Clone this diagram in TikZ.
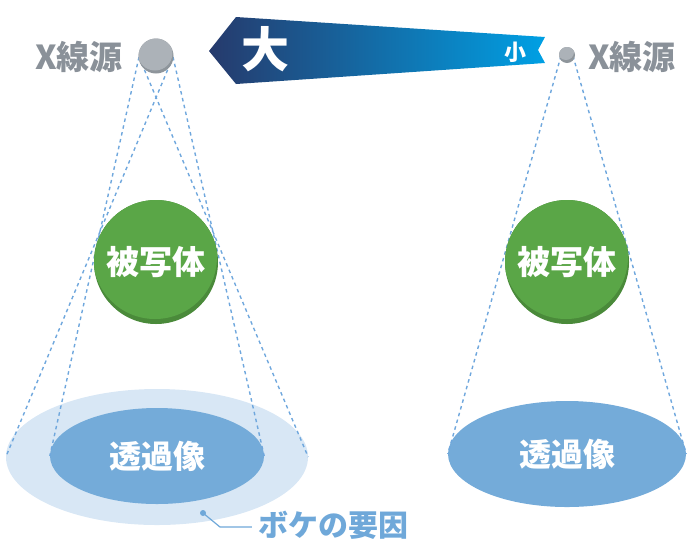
\documentclass[tikz,border=0pt]{standalone}
\usepackage{fontspec}
\newfontfamily\jp{Noto Sans CJK JP}
\usetikzlibrary{shapes.geometric}
\definecolor{penumbra}{HTML}{D8E7F5}
\definecolor{imgblue}{HTML}{74ABD9}
\definecolor{objgreen}{HTML}{5AA647}
\definecolor{objdark}{HTML}{4A8A3A}
\definecolor{srcgray}{HTML}{ACB2B8}
\definecolor{srcdark}{HTML}{8E959B}
\definecolor{txtgray}{HTML}{8A9199}
\definecolor{dashblue}{HTML}{6FA7DD}
\definecolor{bokehblue}{HTML}{6FA8D9}
\definecolor{bannerL}{HTML}{263A6C}
\definecolor{bannerM}{HTML}{0A72AA}
\definecolor{bannerR}{HTML}{00A0E4}
\begin{document}
\begin{tikzpicture}[x=1pt,y=-1pt,
  jpfont/.style={font={\jp\bfseries\fontsize{#1}{#1}\selectfont}},
  ray/.style={draw=dashblue,line width=1.4pt,dash pattern=on 3.5pt off 3.5pt},
  ellipsebox/.style={ellipse,inner sep=0pt,draw=none},
  objball/.style={circle,inner sep=0pt,minimum size=124pt,fill=objdark,text=white,jpfont=33,
    path picture={\fill[objgreen] ([shift={(-1,-5)}]path picture bounding box.center) circle (62);}},
  srcball/.style={circle,inner sep=0pt,fill=srcdark,
    path picture={\fill[srcgray] ([shift={(-1,-3)}]path picture bounding box.center) circle (#1);}},
  srclabel/.style={text=txtgray,jpfont=33,inner sep=0pt},
]
\useasboundingbox (0,0) rectangle (692,550);
% ---------- left setup ----------
\node[ellipsebox,fill=penumbra,minimum width=302pt,minimum height=136pt] (penL) at (157,457) {};
\node[ellipsebox,fill=imgblue,minimum width=214pt,minimum height=96pt,text=white,jpfont=32] (imgL) at (157,456) {透過像};
\coordinate (sLl) at (139,57);
\coordinate (sLr) at (173,57);
\draw[ray] (sLr) -- (penL.west);
\draw[ray] (sLl) -- (penL.east);
\draw[ray] (sLl) -- (imgL.west);
\draw[ray] (sLr) -- (imgL.east);
\node[objball] (objL) at (156,262) {被写体};
\node[srcball=17.5,minimum size=35pt] (srcL) at (156,56) {};
\node[srclabel] (lblL) at (79,57) {X線源};
% ---------- right setup ----------
\node[ellipsebox,fill=imgblue,minimum width=238pt,minimum height=106pt,text=white,jpfont=32] (imgR) at (567,454) {透過像};
\coordinate (sRl) at (561,56);
\coordinate (sRr) at (573,56);
\draw[ray] (sRl) -- (imgR.west);
\draw[ray] (sRr) -- (imgR.east);
\node[objball] (objR) at (567,262) {被写体};
\node[srcball=8,minimum size=16pt] (srcR) at (567,55) {};
\node[srclabel] (lblR) at (632,57) {X線源};
% ---------- banner ----------
\shade[left color=bannerL,middle color=bannerM,right color=bannerR]
  (209,51) -- (236,17) -- (545,37) -- (538,50) -- (545,63) -- (236,84) -- cycle;
\node[text=white,jpfont=48,inner sep=0pt] (big) at (265,49) {大};
\node[text=white,jpfont=22,inner sep=0pt] (small) at (515,52) {小};
% ---------- bokeh label ----------
\node[text=bokehblue,jpfont=30,inner sep=0pt] (bokeh) at (333,525) {ボケの要因};
\coordinate (dot) at (203,513);
\coordinate (elbow) at (220,527);
\fill[bokehblue] (dot) circle (3);
\draw[bokehblue,line width=1.2pt,shorten >=6pt] (dot) -- (elbow) -- (elbow -| bokeh.west);
\end{tikzpicture}
\end{document}
